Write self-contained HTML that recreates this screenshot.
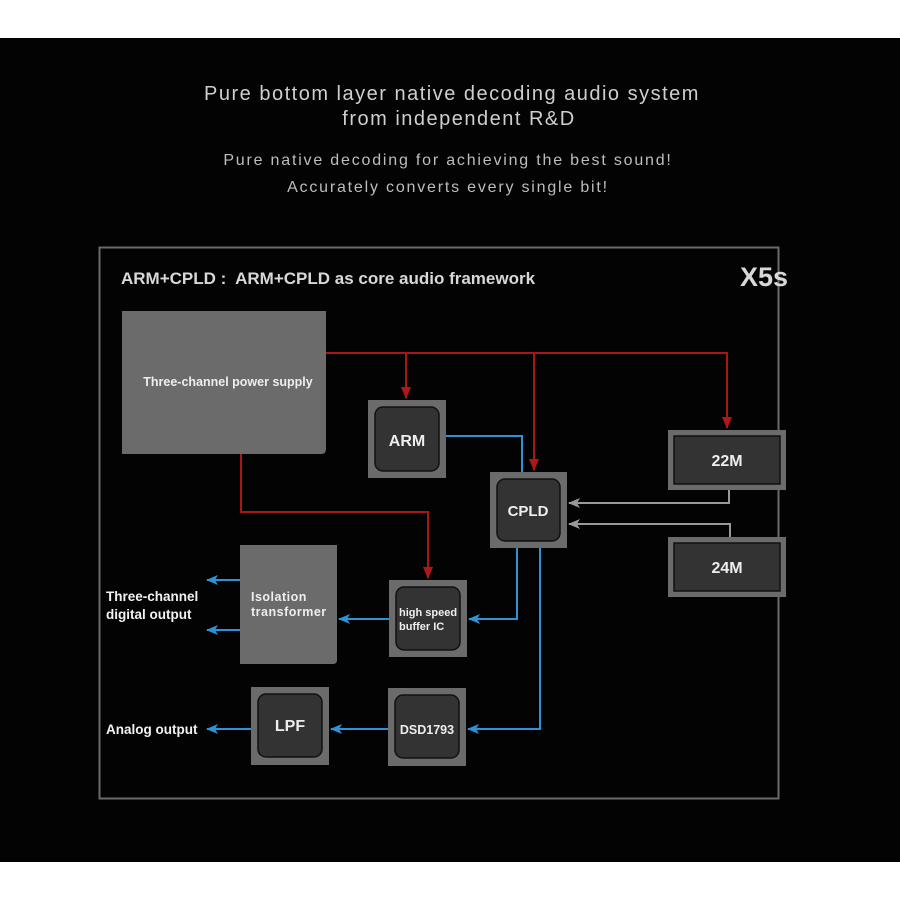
<!DOCTYPE html>
<html><head><meta charset="utf-8"><style>
html,body{margin:0;padding:0;background:#fff;}
svg{display:block;}
text{font-family:"Liberation Sans",sans-serif;}
</style></head><body>
<svg width="900" height="900" viewBox="0 0 900 900" xmlns="http://www.w3.org/2000/svg">
<defs>
<marker id="ar" markerWidth="12" markerHeight="10" refX="11" refY="5" orient="auto" markerUnits="userSpaceOnUse"><path d="M0,0 L12,5 L0,10 Z" fill="#b01818"/></marker>
<marker id="ab" markerWidth="12" markerHeight="10" refX="11" refY="5" orient="auto" markerUnits="userSpaceOnUse"><path d="M0,0 L12,5 L0,10 L3,5 Z" fill="#2b93d6"/></marker>
<marker id="ag" markerWidth="12" markerHeight="10" refX="11" refY="5" orient="auto" markerUnits="userSpaceOnUse"><path d="M0,0 L12,5 L0,10 L3,5 Z" fill="#999"/></marker>
</defs>
<rect x="0" y="38" width="900" height="824" fill="#030303"/>
<g fill="#cfcfcf" text-anchor="middle">
<text x="452" y="100" font-size="20" letter-spacing="1.5">Pure bottom layer native decoding audio system</text>
<text x="459" y="125" font-size="20" letter-spacing="1.5">from independent R&amp;D</text>
<text x="448" y="165" font-size="16" fill="#bdbdbd" letter-spacing="1.8">Pure native decoding for achieving the best sound!</text>
<text x="448" y="192" font-size="16" fill="#bdbdbd" letter-spacing="1.8">Accurately converts every single bit!</text>
</g>
<rect x="99.5" y="247.5" width="679" height="551" fill="none" stroke="#6a6a6a" stroke-width="2"/>
<text x="121" y="284" font-size="17" font-weight="bold" fill="#d8d8d8" xml:space="preserve">ARM+CPLD :  ARM+CPLD as core audio framework</text>
<text x="788" y="286" font-size="27" font-weight="bold" fill="#d8d8d8" text-anchor="end">X5s</text>

<g stroke="#a81616" stroke-width="2" fill="none">
<polyline points="326,353 727,353 727,428" marker-end="url(#ar)"/>
<line x1="406" y1="353" x2="406" y2="398" marker-end="url(#ar)"/>
<line x1="534" y1="353" x2="534" y2="470" marker-end="url(#ar)"/>
<polyline points="241,454 241,512 428,512 428,578" marker-end="url(#ar)"/>
</g>
<g stroke="#2b93d6" stroke-width="2" fill="none">
<polyline points="446,436 522,436 522,472"/>
<polyline points="517,548 517,619 469,619" marker-end="url(#ab)"/>
<polyline points="540,548 540,729 468,729" marker-end="url(#ab)"/>
<line x1="389" y1="619" x2="339" y2="619" marker-end="url(#ab)"/>
<line x1="388" y1="729" x2="331" y2="729" marker-end="url(#ab)"/>
<line x1="251" y1="729" x2="207" y2="729" marker-end="url(#ab)"/>
<line x1="240" y1="580" x2="207" y2="580" marker-end="url(#ab)"/>
<line x1="240" y1="630" x2="207" y2="630" marker-end="url(#ab)"/>
</g>
<g stroke="#999" stroke-width="2" fill="none">
<polyline points="729,490 729,503 569,503" marker-end="url(#ag)"/>
<polyline points="730,537 730,524 569,524" marker-end="url(#ag)"/>
</g>

<path d="M122,311 H326 V449 Q326,454 321,454 H122 Z" fill="#6b6b6b"/>
<text x="228" y="386" font-size="12.5" font-weight="bold" fill="#eee" text-anchor="middle">Three-channel power supply</text>
<path d="M240,545 H337 V660 Q337,664 333,664 H240 Z" fill="#6b6b6b"/>
<text x="251" y="601" font-size="12.5" font-weight="bold" fill="#eee" letter-spacing="0.5">Isolation</text>
<text x="251" y="616" font-size="12.5" font-weight="bold" fill="#eee" letter-spacing="0.5">transformer</text>

<g>
<rect x="368" y="400" width="78" height="78" fill="#6b6b6b"/>
<rect x="375" y="407" width="64" height="64" rx="8" fill="#333" stroke="#111" stroke-width="1.5"/>
<text x="407" y="446" font-size="16" font-weight="bold" fill="#eee" text-anchor="middle">ARM</text>

<rect x="490" y="472" width="77" height="76" fill="#6b6b6b"/>
<rect x="497" y="479" width="63" height="62" rx="8" fill="#333" stroke="#111" stroke-width="1.5"/>
<text x="528" y="516" font-size="15" font-weight="bold" fill="#eee" text-anchor="middle">CPLD</text>

<rect x="389" y="580" width="78" height="77" fill="#6b6b6b"/>
<rect x="396" y="587" width="64" height="63" rx="8" fill="#333" stroke="#111" stroke-width="1.5"/>
<text x="399" y="616" font-size="11" font-weight="bold" fill="#eee">high speed</text>
<text x="399" y="630" font-size="11" font-weight="bold" fill="#eee">buffer IC</text>

<rect x="251" y="687" width="78" height="78" fill="#6b6b6b"/>
<rect x="258" y="694" width="64" height="63" rx="8" fill="#333" stroke="#111" stroke-width="1.5"/>
<text x="290" y="731" font-size="16" font-weight="bold" fill="#eee" text-anchor="middle">LPF</text>

<rect x="388" y="688" width="78" height="78" fill="#6b6b6b"/>
<rect x="395" y="695" width="64" height="63" rx="8" fill="#333" stroke="#111" stroke-width="1.5"/>
<text x="427" y="734" font-size="12.5" font-weight="bold" fill="#eee" text-anchor="middle">DSD1793</text>

<rect x="668" y="430" width="118" height="60" fill="#6b6b6b"/>
<rect x="674" y="436" width="106" height="48" fill="#333" stroke="#111" stroke-width="1.5"/>
<text x="727" y="466" font-size="16" font-weight="bold" fill="#eee" text-anchor="middle">22M</text>

<rect x="668" y="537" width="118" height="60" fill="#6b6b6b"/>
<rect x="674" y="543" width="106" height="48" fill="#333" stroke="#111" stroke-width="1.5"/>
<text x="727" y="573" font-size="16" font-weight="bold" fill="#eee" text-anchor="middle">24M</text>
</g>

<g font-size="13.5" font-weight="bold" fill="#f2f2f2">
<text x="106" y="601">Three-channel</text>
<text x="106" y="619">digital output</text>
<text x="106" y="734">Analog output</text>
</g>
</svg>
</body></html>
